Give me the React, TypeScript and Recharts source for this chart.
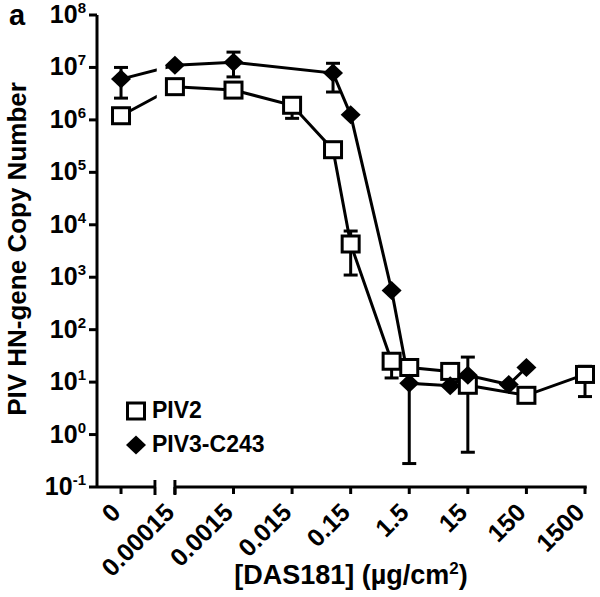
import React from 'react';
import { LineChart, Line, XAxis, YAxis, ErrorBar, ReferenceLine, ReferenceArea, Legend, Label } from 'recharts';

// x axis is log10(conc / 0.00015), with the "0" group placed left of a break
const BASE_CONC = 0.00015;
const ZERO_POS = -0.92;
const AXIS_MIN = -1.33;
const BREAK_LEFT = -0.34;
const GAP_RIGHT = -0.16;
const AXIS_MAX = 7;

const FONT = '"Liberation Sans", Arial, sans-serif';

const xTickConc = [0, 0.00015, 0.0015, 0.015, 0.15, 1.5, 15, 150, 1500];
const xTickLabels = ['0', '0.00015', '0.0015', '0.015', '0.15', '1.5', '15', '150', '1500'];
const yTickExps = [-1, 0, 1, 2, 3, 4, 5, 6, 7, 8];

// PIV2 (open squares)
const piv2Conc = [0, 0.00015, 0.0015, 0.015, 0.075, 0.15, 0.75, 1.5, 7.5, 15, 150, 1500];
const piv2Copies = [1.2e6, 4.3e6, 3.7e6, 1.9e6, 2.7e5, 4300, 25, 19, 16, 8.7, 5.6, 14];
const piv2Low = [null, null, null, 1.07e6, null, 1100, 12, null, null, null, null, 5.3];
const piv2High = [null, null, null, 2.5e6, null, 7600, 35, null, null, null, null, 20];

// PIV3-C243 (filled diamonds)
const piv3Conc = [0, 0.00015, 0.0015, 0.075, 0.15, 0.75, 1.5, 7.5, 15, 75, 150];
const piv3Copies = [6e6, 1.1e7, 1.26e7, 7.8e6, 1.25e6, 560, 9.5, 8.5, 13.5, 9, 19];
const piv3Low = [2.6e6, null, 6.6e6, 3.4e6, null, null, 0.28, null, 0.46, null, null];
const piv3High = [1e7, null, 1.96e7, 1.2e7, null, null, 14, null, 30, null, null];

const pos = (c: number) => (c === 0 ? ZERO_POS : Math.log10(c / BASE_CONC));

const buildRows = (conc: number[], vals: number[], lo: (number | null)[], hi: (number | null)[]) =>
  conc.map((c, i) => ({
    u: pos(c),
    copies: vals[i],
    err: lo[i] != null && hi[i] != null ? [vals[i] - (lo[i] as number), (hi[i] as number) - vals[i]] : undefined,
  }));

const piv2Rows = buildRows(piv2Conc, piv2Copies, piv2Low, piv2High);
const piv3Rows = buildRows(piv3Conc, piv3Copies, piv3Low, piv3High);

const xTicks = xTickConc.map(pos);
const yTicks = yTickExps.map((e) => Math.pow(10, e));

const SquareDot = (props: any) => {
  const { cx, cy } = props;
  if (cx == null || cy == null) return null;
  return <rect x={cx - 8.5} y={cy - 8} width={17} height={16} fill="#fff" stroke="#000" strokeWidth={3} />;
};

const DiamondDot = (props: any) => {
  const { cx, cy } = props;
  if (cx == null || cy == null) return null;
  return <polygon points={`${cx},${cy - 9.5} ${cx + 10},${cy} ${cx},${cy + 9.5} ${cx - 10},${cy}`} fill="#000" />;
};

const YTick = (props: any) => {
  const { x, y, payload } = props;
  const exp = Math.round(Math.log10(payload.value));
  return (
    <text x={x - 1} y={y + 8} textAnchor="end" fontFamily={FONT} fontWeight="bold" fontSize={25} fill="#000">
      10
      <tspan dy={-10} fontSize={15}>{exp}</tspan>
    </text>
  );
};

const XTick = (props: any) => {
  const { x, y, payload } = props;
  let idx = 0;
  xTicks.forEach((t, i) => {
    if (Math.abs(t - payload.value) < 1e-6) idx = i;
  });
  const tx = x + 1;
  const ty = y + 20;
  return (
    <text x={tx} y={ty} textAnchor="end" transform={`rotate(-45, ${tx}, ${ty})`} fontFamily={FONT} fontWeight="bold" fontSize={25} fill="#000">
      {xTickLabels[idx]}
    </text>
  );
};

const legendItems = [
  { name: 'PIV2', shape: 'square' },
  { name: 'PIV3-C243', shape: 'diamond' },
];

const renderLegend = () => (
  <svg width={190} height={70}>
    {legendItems.map((item, i) => (
      <g key={item.name} transform={`translate(0, ${i * 34})`}>
        {item.shape === 'square' ? <SquareDot cx={18} cy={13} /> : <DiamondDot cx={18} cy={13} />}
        <text x={34} y={20} fontFamily={FONT} fontWeight="bold" fontSize={23} fill="#000">
          {item.name}
        </text>
      </g>
    ))}
  </svg>
);

const breakLow = Math.pow(10, -1 - 8 / 52.4);
const breakHigh = Math.pow(10, -1 + 7 / 52.4);

const App: React.FC = () => {
  return (
    <div style={{ position: 'absolute', left: 0, top: 0, background: '#fff' }}>
      <LineChart width={600} height={597} margin={{ top: 15, right: 15, bottom: 30, left: 27 }}>
        <XAxis
          dataKey="u"
          type="number"
          domain={[AXIS_MIN, AXIS_MAX]}
          ticks={xTicks}
          interval={0}
          axisLine={false}
          tickSize={7}
          tickMargin={0}
          tickLine={{ stroke: '#000', strokeWidth: 3 }}
          tick={<XTick />}
          height={80}
        >
          <Label
            content={() => (
              <text x={351} y={584} textAnchor="middle" fontFamily={FONT} fontWeight="bold" fontSize={27} fill="#000">
                [DAS181] (µg/cm
                <tspan dy={-10} fontSize={17}>2</tspan>
                <tspan dy={10}>)</tspan>
              </text>
            )}
          />
        </XAxis>
        <YAxis
          scale="log"
          domain={[0.1, 1e8]}
          ticks={yTicks}
          interval={0}
          width={70}
          axisLine={{ stroke: '#000', strokeWidth: 3 }}
          tickLine={{ stroke: '#000', strokeWidth: 3 }}
          tickSize={8}
          tickMargin={2}
          tick={<YTick />}
        >
          <Label
            content={() => (
              <text
                x={26}
                y={249}
                textAnchor="middle"
                transform="rotate(-90, 26, 249)"
                fontFamily={FONT}
                fontWeight="bold"
                fontSize={26}
                fill="#000"
              >
                PIV HN-gene Copy Number
              </text>
            )}
          />
          <Label
            content={() => (
              <text x={9} y={25} fontFamily={FONT} fontWeight="bold" fontSize={29} fill="#000">
                a
              </text>
            )}
          />
        </YAxis>

        <Line
          data={piv2Rows}
          dataKey="copies"
          name="PIV2"
          stroke="#000"
          strokeWidth={3}
          dot={<SquareDot />}
          activeDot={false}
          isAnimationActive={false}
        >
          <ErrorBar dataKey="err" width={7} stroke="#000" strokeWidth={3} direction="y" />
        </Line>
        <Line
          data={piv3Rows}
          dataKey="copies"
          name="PIV3-C243"
          stroke="#000"
          strokeWidth={3}
          dot={<DiamondDot />}
          activeDot={false}
          isAnimationActive={false}
        >
          <ErrorBar dataKey="err" width={7} stroke="#000" strokeWidth={3} direction="y" />
        </Line>

        {/* white gap where the x axis is broken */}
        <ReferenceArea x1={BREAK_LEFT + 0.03} x2={GAP_RIGHT} y1={0.1} y2={1e8} fill="#fff" fillOpacity={1} stroke="none" zIndex={450} />

        <ReferenceLine segment={[{ x: AXIS_MIN, y: 0.1 }, { x: BREAK_LEFT, y: 0.1 }]} stroke="#000" strokeWidth={3} ifOverflow="visible" />
        <ReferenceLine segment={[{ x: 0, y: 0.1 }, { x: AXIS_MAX + 0.03, y: 0.1 }]} stroke="#000" strokeWidth={3} ifOverflow="visible" />
        <ReferenceLine segment={[{ x: BREAK_LEFT, y: breakLow }, { x: BREAK_LEFT, y: breakHigh }]} stroke="#000" strokeWidth={3} ifOverflow="visible" />
        <ReferenceLine segment={[{ x: 0, y: breakLow }, { x: 0, y: breakHigh }]} stroke="#000" strokeWidth={3} ifOverflow="visible" />

        <Legend
          layout="vertical"
          align="center"
          verticalAlign="middle"
          content={renderLegend}
          wrapperStyle={{ position: 'absolute', left: 118, top: 398, width: 190, height: 70 }}
        />
      </LineChart>
    </div>
  );
};

export default App;
